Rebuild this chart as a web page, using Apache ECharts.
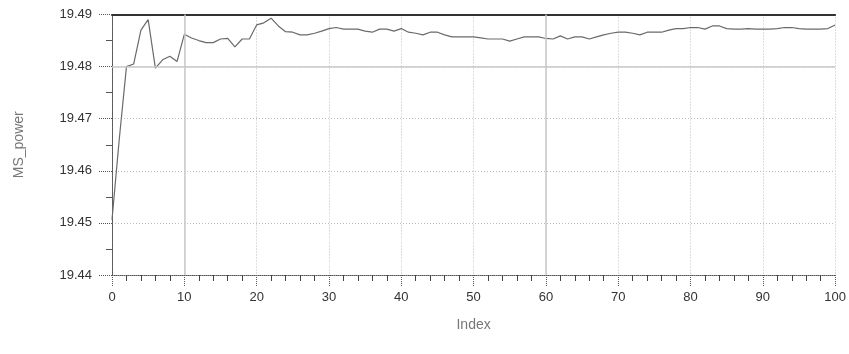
<!DOCTYPE html>
<html><head><meta charset="utf-8">
<script src="https://cdn.jsdelivr.net/npm/echarts@6/dist/echarts.min.js"></script>
<style>html,body{margin:0;padding:0;background:#fff}#c{width:849px;height:354px}</style>
</head><body><div id="c"></div>
<script>
const indexValues = Array.from({length:101}, (_, i) => i);
const msPower = [
 19.4506, 19.4660, 19.4800, 19.4805, 19.4870, 19.4890, 19.4797, 19.4813, 19.4820, 19.4810,
 19.4862, 19.4855, 19.4850, 19.4846, 19.4846, 19.4853, 19.4854, 19.4838, 19.4853, 19.4853,
 19.4880, 19.4884, 19.4893, 19.4878, 19.4867, 19.4866, 19.4861, 19.4861, 19.4864, 19.4868,
 19.4873, 19.4875, 19.4872, 19.4872, 19.4872, 19.4868, 19.4866, 19.4872, 19.4872, 19.4868,
 19.4873, 19.4866, 19.4864, 19.4861, 19.4866, 19.4866, 19.4861, 19.4857, 19.4857, 19.4857,
 19.4857, 19.4855, 19.4853, 19.4853, 19.4853, 19.4849, 19.4853, 19.4857, 19.4857, 19.4857,
 19.4854, 19.4853, 19.4859, 19.4853, 19.4857, 19.4857, 19.4853, 19.4857, 19.4861, 19.4864,
 19.4866, 19.4866, 19.4864, 19.4861, 19.4866, 19.4866, 19.4866, 19.4870, 19.4873, 19.4873,
 19.4875, 19.4875, 19.4872, 19.4878, 19.4878, 19.4873, 19.4872, 19.4872, 19.4873, 19.4872,
 19.4872, 19.4872, 19.4873, 19.4875, 19.4875, 19.4873, 19.4872, 19.4872, 19.4872, 19.4873,
 19.4880
];
const yTicks = ['19.44','19.45','19.46','19.47','19.48','19.49'];
const xTicks = ['0','10','20','30','40','50','60','70','80','90','100'];
const solidX = [10, 60];
const solidY = [19.48];

const chart = echarts.init(document.getElementById('c'), null, {renderer:'canvas'});
const font = 'Liberation Sans, Arial, sans-serif';
chart.setOption({
  animation:false,
  backgroundColor:'#fff',
  grid:{left:112, right:10.5, top:14.5, bottom:79, containLabel:false},
  xAxis:[{
    type:'value', min:0, max:100, interval:10,
    name:'Index', nameLocation:'middle', nameGap:43,
    nameTextStyle:{color:'#777', fontSize:14, fontFamily:font},
    axisLine:{show:true, lineStyle:{color:'#555', type:'dotted', width:1}},
    axisTick:{show:true, length:12, lineStyle:{color:'#555', type:'dotted'}},
    minorTick:{show:true, splitNumber:5, length:6, lineStyle:{color:'#444'}},
    axisLabel:{color:'#333', fontSize:13, fontFamily:font, margin:16,
      formatter:(v)=>xTicks[Math.round(v/10)] ?? ''},
    splitLine:{show:true, lineStyle:{color:'#bbb', type:[1,2], width:1}}
  },{
    type:'value', min:0, max:100, position:'top',
    axisLine:{show:true, lineStyle:{color:'#333', width:2}},
    axisTick:{show:false}, axisLabel:{show:false}, splitLine:{show:false}
  }],
  yAxis:[{
    type:'value', min:19.44, max:19.49, interval:0.01,
    name:'MS_power', nameLocation:'middle', nameGap:86, nameRotate:90,
    nameTextStyle:{color:'#777', fontSize:14, fontFamily:font},
    axisLine:{show:true, lineStyle:{color:'#555', type:'dotted'}},
    axisTick:{show:true, length:14, lineStyle:{color:'#555', type:'dotted'}},
    minorTick:{show:true, splitNumber:2, length:6, lineStyle:{color:'#555'}},
    axisLabel:{color:'#333', fontSize:13, fontFamily:font, margin:20,
      formatter:(v)=>yTicks[Math.round((v-19.44)*100)] ?? ''},
    splitLine:{show:true, lineStyle:{color:'#bbb', type:[1,2], width:1}}
  },{
    type:'value', min:19.44, max:19.49, position:'right',
    axisLine:{show:true, lineStyle:{color:'#555', type:'dotted'}},
    axisTick:{show:false}, axisLabel:{show:false}, splitLine:{show:false}
  }],
  series:[{
    type:'line', xAxisIndex:0, yAxisIndex:0,
    data: indexValues.map((x,i)=>[x, msPower[i]]),
    showSymbol:false, symbol:'none',
    lineStyle:{color:'#6a6a6a', width:1.2},
    markLine:{
      silent:true, symbol:'none', label:{show:false},
      lineStyle:{color:'#c8c8c8', type:'solid', width:1.5},
      data:[...solidX.map(v=>({xAxis:v})), ...solidY.map(v=>({yAxis:v}))]
    },
    z:3
  }]
});
</script></body></html>
